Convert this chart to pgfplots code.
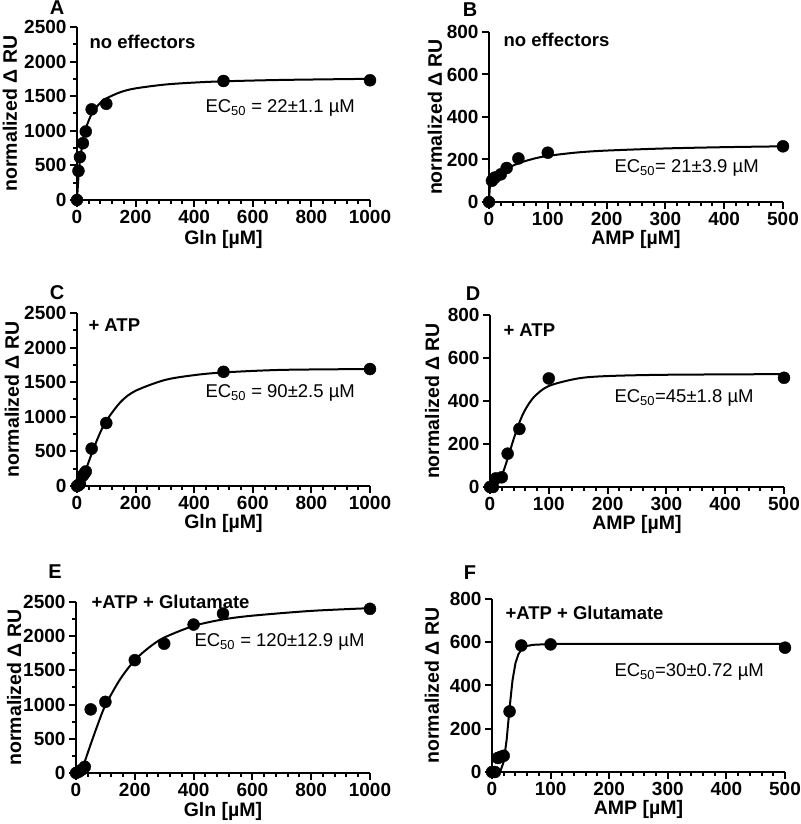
\documentclass[border=0pt]{standalone}
\usepackage{fontspec}
\setmainfont{Liberation Sans}
\usepackage{pgfplots}
\pgfplotsset{compat=1.18}
\pgfplotsset{
 panel/.style={
  scale only axis, anchor=south west,
  axis lines=left, axis line style={-, line width=2.2pt},
  tick align=outside, major tick length=7pt, minor tick length=4pt,
  every tick/.style={black, line width=2pt},
  tick label style={font=\fontsize{19}{20}\selectfont\bfseries},
  label style={font=\fontsize{19.5}{21}\selectfont\bfseries},
  /pgf/number format/assume math mode=true,
  /pgf/number format/set thousands separator={},
  clip=false, xmin=0, ymin=0, enlargelimits=false,
  minor x tick num=4,
  ylabel={normalized Δ RU},
 },
 gln/.style={xmax=1000, ymax=2500, xtick={0,200,...,1000}, ytick={0,500,...,2500}, minor y tick num=1, xlabel={Gln [µM]}},
 amp/.style={xmax=500, ymax=800, xtick={0,100,...,500}, ytick={0,200,...,800}, minor y tick num=0, xlabel={AMP [µM]}},
 dots/.style={only marks, mark=*, mark size=6pt, black},
 fit/.style={smooth, tension=0.5, line width=2pt, black},
}
\newcommand{\lett}{\fontsize{20}{22}\selectfont\bfseries}
\newcommand{\cond}{\fontsize{18.5}{20}\selectfont\bfseries}
\newcommand{\ec}{\fontsize{18.5}{20}\selectfont}
\begin{document}
\begin{tikzpicture}
\path[use as bounding box] (0,0) rectangle (800pt,824pt);
% ---------- A ----------
\begin{axis}[panel, gln, at={(77pt,624pt)}, width=293pt, height=173pt,
  ylabel style={at={(axis description cs:-0.229,0.5)}, anchor=center},
  xlabel style={at={(axis description cs:0.5,-0.231)}, anchor=center}]
\addplot[fit] coordinates {(0,0) (5,331) (10,559) (20,852) (30,1033) (50,1243) (75,1384) (100,1467) (150,1561) (200,1613) (300,1668) (400,1697) (500,1715) (700,1735) (1000,1751)};
\addplot[dots] coordinates {(0,0) (5,420) (10,620) (20,820) (30,990) (50,1310) (100,1390) (500,1720) (1000,1730)};
\end{axis}
% ---------- B ----------
\begin{axis}[panel, amp, at={(489pt,622pt)}, width=294pt, height=170pt,
  ylabel style={at={(axis description cs:-0.184,0.5)}, anchor=center},
  xlabel style={at={(axis description cs:0.5,-0.223)}, anchor=center}]
\addplot[fit] coordinates {(0,0) (2,90) (5,103) (10,118) (20,140) (30,157) (50,182) (75,203) (100,217) (150,233) (200,242) (300,252) (400,258) (500,262)};
\addplot[dots] coordinates {(0,0) (5,100) (10,115) (20,130) (30,160) (50,205) (100,232) (500,262)};
\end{axis}
% ---------- C ----------
\begin{axis}[panel, gln, at={(77pt,338pt)}, width=293pt, height=173pt,
  ylabel style={at={(axis description cs:-0.222,0.5)}, anchor=center},
  xlabel style={at={(axis description cs:0.5,-0.214)}, anchor=center}]
\addplot[fit] coordinates {(0,0) (10,40) (20,124) (30,232) (50,465) (75,732) (100,942) (150,1219) (200,1376) (300,1532) (400,1602) (500,1641) (700,1678) (1000,1690)};
\addplot[dots] coordinates {(0,0) (5,10) (10,30) (20,150) (25,180) (30,210) (50,540) (100,910) (500,1650) (1000,1690)};
\end{axis}
% ---------- D ----------
\begin{axis}[panel, amp, at={(490pt,337pt)}, width=294pt, height=172pt,
  ylabel style={at={(axis description cs:-0.197,0.5)}, anchor=center},
  xlabel style={at={(axis description cs:0.5,-0.215)}, anchor=center}]
\addplot[fit] coordinates {(0,0) (10,9) (20,53) (30,132) (40,221) (50,300) (60,360) (75,419) (100,470) (150,505) (200,516) (300,522) (500,525)};
\addplot[dots] coordinates {(0,0) (5,0) (10,40) (20,45) (30,155) (50,270) (100,505) (500,508)};
\end{axis}
% ---------- E ----------
\begin{axis}[panel, gln, at={(76pt,51pt)}, width=294pt, height=171pt,
  ylabel style={at={(axis description cs:-0.21,0.5)}, anchor=center},
  xlabel style={at={(axis description cs:0.5,-0.224)}, anchor=center}]
\addplot[fit] coordinates {(0,0) (15,30) (25,110) (50,420) (75,720) (100,990) (150,1370) (200,1650) (250,1840) (300,1980) (400,2150) (500,2245) (600,2300) (800,2370) (1000,2410)};
\addplot[dots] coordinates {(0,0) (10,20) (20,50) (30,90) (50,930) (100,1040) (200,1650) (300,1890) (400,2170) (500,2330) (1000,2400)};
\end{axis}
% ---------- F ----------
\begin{axis}[panel, amp, at={(492pt,52pt)}, width=293pt, height=173pt,
  ylabel style={at={(axis description cs:-0.205,0.5)}, anchor=center},
  xlabel style={at={(axis description cs:0.5,-0.214)}, anchor=center}]
\addplot[line width=2pt, black] coordinates {(0,0) (10,1) (15,9) (20,48) (25,149) (30,296) (35,424) (40,503) (45,544) (50,566) (60,583) (70,588) (100,592) (500,592)};
\addplot[dots] coordinates {(0,0) (5,0) (10,65) (15,70) (20,75) (30,280) (50,585) (100,590) (500,575)};
\end{axis}
% ---------- texts ----------
\node[font=\lett, inner sep=0pt] at (57pt,816pt) {A};
\node[font=\lett, inner sep=0pt] at (470pt,814pt) {B};
\node[font=\lett, inner sep=0pt] at (57pt,531pt) {C};
\node[font=\lett, inner sep=0pt] at (473pt,530pt) {D};
\node[font=\lett, inner sep=0pt] at (55pt,252pt) {E};
\node[font=\lett, inner sep=0pt] at (470pt,251pt) {F};
\node[font=\cond, anchor=west] at (86pt,782pt) {no effectors};
\node[font=\cond, anchor=west] at (500pt,784pt) {no effectors};
\node[font=\cond, anchor=west] at (85pt,499pt) {+ ATP};
\node[font=\cond, anchor=west] at (500pt,494pt) {+ ATP};
\node[font=\cond, anchor=west] at (88pt,222pt) {+ATP + Glutamate};
\node[font=\cond, anchor=west] at (502pt,211pt) {+ATP + Glutamate};
\node[font=\ec, anchor=west] at (202pt,716pt) {EC\textsubscript{50} = 22±1.1 µM};
\node[font=\ec, anchor=west] at (611pt,656pt) {EC\textsubscript{50}= 21±3.9 µM};
\node[font=\ec, anchor=west] at (202pt,431pt) {EC\textsubscript{50} = 90±2.5 µM};
\node[font=\ec, anchor=west] at (611pt,426pt) {EC\textsubscript{50}=45±1.8 µM};
\node[font=\ec, anchor=west] at (191pt,182pt) {EC\textsubscript{50} = 120±12.9 µM};
\node[font=\ec, anchor=west] at (611pt,152pt) {EC\textsubscript{50}=30±0.72 µM};
\end{tikzpicture}
\end{document}
